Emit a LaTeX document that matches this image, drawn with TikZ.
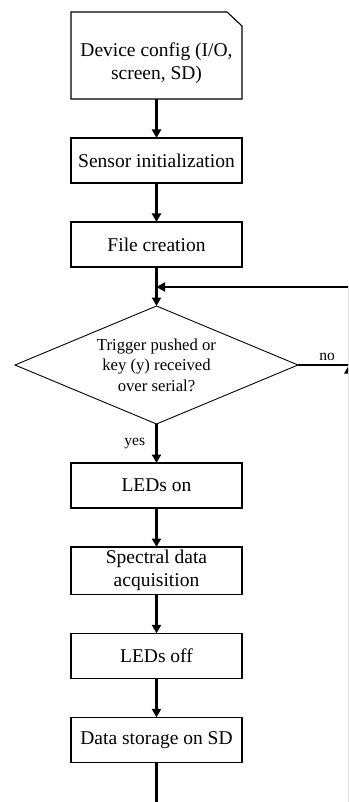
\documentclass[tikz,border=0pt]{standalone}
\usepackage{fontspec}
\setmainfont{Liberation Serif}
\usetikzlibrary{positioning, arrows.meta, shapes.geometric}
\tikzset{
  node distance=39pt,
  >={Triangle[length=8.5pt,width=9pt]},
  flow/.style={line width=2.2pt},
  stepbox/.style={draw, line width=1.1pt, rectangle, minimum width=171pt, minimum height=45pt, align=center, outer sep=0pt, font=\fontsize{19.5}{23}\selectfont},
  cfgbox/.style={rectangle, minimum width=171pt, minimum height=87pt, outer sep=0pt},
  decide/.style={draw, line width=0.9pt, diamond, aspect=2.4, minimum width=283pt, minimum height=118pt, inner sep=0pt, align=center, outer sep=0pt, font=\fontsize{16.7}{20.5}\selectfont},
  branch/.style={font=\fontsize{15.5}{18}\selectfont}
}

\begin{document}
\begin{tikzpicture}
    \useasboundingbox (0,0) rectangle (348pt,-802pt);
    \clip (0,0) rectangle (348pt,-802pt);

    \node[cfgbox] (config) at (156.5pt,-55.5pt) {};
    \node[stepbox, draw=none, minimum height=0pt] (configtext) at ([yshift=-8pt]config.center) {Device config (I/O,\\ screen, SD)};
    \node[stepbox, below=of config] (sensor) {Sensor initialization};
    \node[stepbox, below=of sensor] (file) {File creation};
    \node[decide, below=of file] (trigger) {Trigger pushed or\\ key (y) received\\ over serial?};
    \node[stepbox, below=of trigger] (ledson) {LEDs on};
    \node[stepbox, below=of ledson] (spectral) {Spectral data\\ acquisition};
    \node[stepbox, below=of spectral] (ledsoff) {LEDs off};
    \node[stepbox, below=of ledsoff] (storage) {Data storage on SD};

    % loop back along the right edge
    \coordinate (rightedge) at (348.9pt,-287pt);
    \coordinate (loopjoin) at (trigger.east -| rightedge);
    \coordinate (loopbot) at (348.9pt,-810pt);
    \coordinate (bottomend) at (storage.south |- loopbot);
    \coordinate (merge) at (file.south |- rightedge);

    % device config box with cut corner
    \draw[line width=1.1pt] (config.south west) -- (config.north west) -- ([xshift=-15pt]config.north east) -- ([yshift=-14pt]config.north east) -- (config.south east) -- cycle;

    \draw[flow,->] (config) -- (sensor);
    \draw[flow,->] (sensor) -- (file);
    \draw[flow,->] (file) -- (trigger);
    \draw[flow,->] (trigger) -- node[branch, left=7pt] {yes} (ledson);
    \draw[flow,->] (ledson) -- (spectral);
    \draw[flow,->] (spectral) -- (ledsoff);
    \draw[flow,->] (ledsoff) -- (storage);
    \draw[flow] (storage) -- (bottomend);
    \draw[flow] (trigger.east) -- node[branch, above, pos=0.57] {no} (loopjoin);
    \draw[flow,->] (loopbot) -- (loopjoin);
    \draw[flow,->] (loopjoin) -- (rightedge) -- (merge);
\end{tikzpicture}
\end{document}
